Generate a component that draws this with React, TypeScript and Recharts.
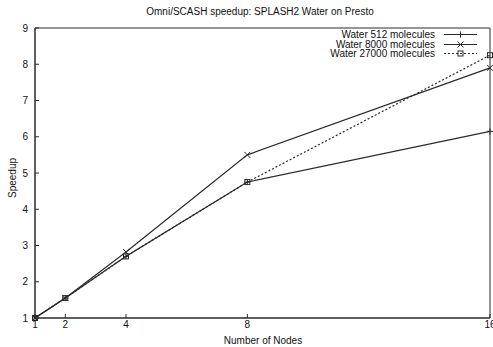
import { LineChart, Line, XAxis, YAxis, ReferenceArea } from "recharts";

const nodes = [1, 2, 4, 8, 16];
const water512 = [1, 1.55, 2.7, 4.75, 6.15];
const water8000 = [1, 1.55, 2.82, 5.5, 7.9];
const water27000 = [1, 1.55, 2.7, 4.75, 8.25];
const xTicks = [1, 2, 4, 8, 16];
const yTicks = [1, 2, 3, 4, 5, 6, 7, 8, 9];

const seriesNames = ["Water 512 molecules", "Water 8000 molecules", "Water 27000 molecules"];

const data = nodes.map((n, i) => ({
  nodes: n,
  w512: water512[i],
  w8000: water8000[i],
  w27000: water27000[i],
}));

const INK = "#2a2a2a";
const FONT = "'Liberation Sans', Arial, sans-serif";

function PlusDot({ cx, cy }: { cx?: number; cy?: number }) {
  if (cx == null || cy == null) return null;
  return (
    <g stroke={INK} strokeWidth={1}>
      <line x1={cx - 3} y1={cy} x2={cx + 3} y2={cy} />
      <line x1={cx} y1={cy - 3} x2={cx} y2={cy + 3} />
    </g>
  );
}

function CrossDot({ cx, cy }: { cx?: number; cy?: number }) {
  if (cx == null || cy == null) return null;
  return (
    <g stroke={INK} strokeWidth={1}>
      <line x1={cx - 3} y1={cy - 3} x2={cx + 3} y2={cy + 3} />
      <line x1={cx - 3} y1={cy + 3} x2={cx + 3} y2={cy - 3} />
    </g>
  );
}

function BoxDot({ cx, cy }: { cx?: number; cy?: number }) {
  if (cx == null || cy == null) return null;
  return <rect x={cx - 2.5} y={cy - 2.5} width={5} height={5} fill="none" stroke={INK} strokeWidth={1} />;
}

const tickStyle = { fontSize: 10, fill: "#111", fontFamily: FONT };

function LegendRow({ label, dash, Marker }: { label: string; dash?: string; Marker: any }) {
  return (
    <div style={{ display: "flex", justifyContent: "flex-end", alignItems: "center", height: 9.5 }}>
      <span>{label}</span>
      <svg width={40} height={9} style={{ marginLeft: 6 }}>
        <line x1={3} y1={4.5} x2={36} y2={4.5} stroke={INK} strokeWidth={1} strokeDasharray={dash} />
        <Marker cx={19.5} cy={4.5} />
      </svg>
    </div>
  );
}

export default function App() {
  return (
    <div style={{ position: "absolute", left: 0, top: 0, width: 493, height: 347, background: "#fff", fontFamily: FONT }}>
      <LineChart width={493} height={347} data={data} margin={{ top: 28, right: 3, bottom: 0, left: 0 }}>
        <XAxis
          dataKey="nodes"
          type="number"
          domain={[1, 16]}
          ticks={xTicks}
          height={29}
          stroke={INK}
          tickSize={-4}
          tickMargin={7}
          tick={tickStyle}
          interval={0}
        />
        <XAxis
          xAxisId="top"
          orientation="top"
          type="number"
          domain={[1, 16]}
          ticks={xTicks}
          height={0}
          stroke={INK}
          tickSize={-4}
          tick={false}
        />
        <YAxis
          type="number"
          domain={[1, 9]}
          ticks={yTicks}
          width={35}
          stroke={INK}
          tickSize={-4}
          tickMargin={11}
          tick={tickStyle}
          interval={0}
        />
        <YAxis
          yAxisId="right"
          orientation="right"
          type="number"
          domain={[1, 9]}
          ticks={yTicks}
          width={0}
          stroke={INK}
          tickSize={-4}
          tick={false}
        />
        <ReferenceArea x1={1} x2={16} y1={1} y2={9} fill="none" stroke={INK} strokeWidth={1} ifOverflow="visible" />
        <Line dataKey="w512" stroke={INK} strokeWidth={1.2} dot={<PlusDot />} isAnimationActive={false} />
        <Line dataKey="w8000" stroke={INK} strokeWidth={1.2} dot={<CrossDot />} isAnimationActive={false} />
        <Line dataKey="w27000" stroke={INK} strokeWidth={1.2} strokeDasharray="2 2" dot={<BoxDot />} isAnimationActive={false} />
      </LineChart>
      <div style={{ position: "absolute", top: 6, left: 0, width: 520, textAlign: "center", fontSize: 10, color: "#111" }}>
        Omni/SCASH speedup: SPLASH2 Water on Presto
      </div>
      <div style={{ position: "absolute", top: 335, left: 0, width: 526, textAlign: "center", fontSize: 10, color: "#111" }}>
        Number of Nodes
      </div>
      <div
        style={{
          position: "absolute",
          left: 12,
          top: 178,
          transform: "translate(-50%, -50%) rotate(-90deg)",
          fontSize: 10,
          color: "#111",
          whiteSpace: "nowrap",
        }}
      >
        Speedup
      </div>
      <div style={{ position: "absolute", top: 30, right: 12, fontSize: 10, color: "#111", lineHeight: "9.5px" }}>
        <LegendRow label={seriesNames[0]} Marker={PlusDot} />
        <LegendRow label={seriesNames[1]} Marker={CrossDot} />
        <LegendRow label={seriesNames[2]} dash="2 2" Marker={BoxDot} />
      </div>
    </div>
  );
}
